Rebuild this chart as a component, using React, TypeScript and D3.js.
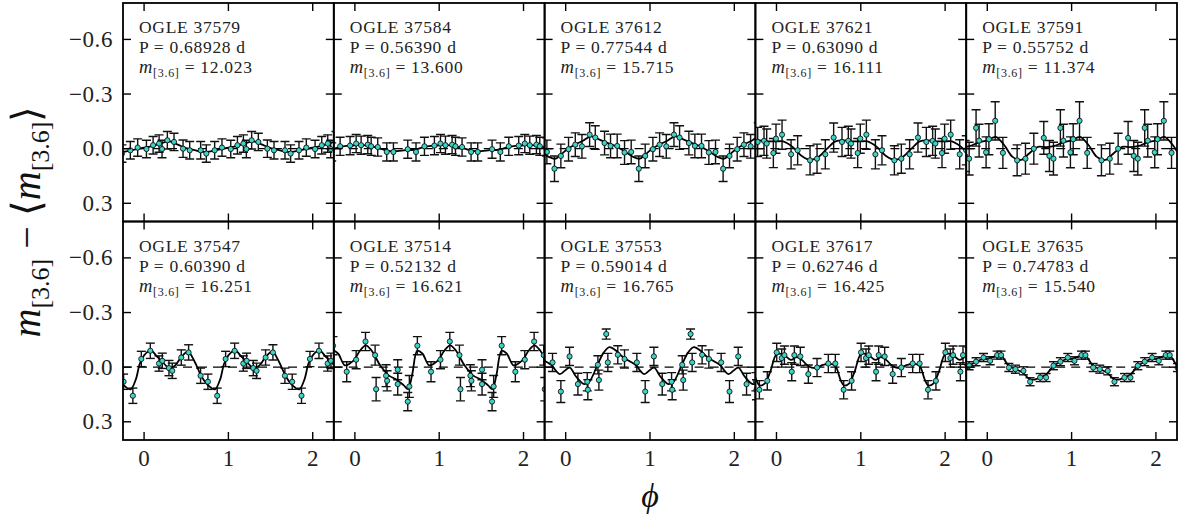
import React from "react";
import * as d3 from "d3";

// ---------- data ----------
const STAR_IDS = ["37579", "37584", "37612", "37621", "37591", "37547", "37514", "37553", "37617", "37635"];
const PERIODS = ["0.68928", "0.56390", "0.77544", "0.63090", "0.55752", "0.60390", "0.52132", "0.59014", "0.62746", "0.74783"];
const MEAN_MAGS = ["12.023", "13.600", "15.715", "16.111", "11.374", "16.251", "16.621", "16.765", "16.425", "15.540"];

const X_TICKS = [0, 1, 2];
const Y_TICKS = [-0.6, -0.3, 0.0, 0.3];
const Y_TICK_LABELS = ["\u22120.6", "\u22120.3", "0.0", "0.3"];

const PHASE_37579 = [0.028, 0.107, 0.178, 0.213, 0.276, 0.355, 0.462, 0.541, 0.671, 0.738, 0.837, 0.924];
const DMAG_37579 = [0.002, -0.019, -0.028, 0.002, -0.046, -0.037, 0.0, 0.009, 0.009, 0.027, 0.009, -0.006];
const ERR_37579 = [0.048, 0.048, 0.048, 0.048, 0.048, 0.048, 0.048, 0.048, 0.048, 0.048, 0.048, 0.048];
const FIT_37579 = [[0, -0.005], [0.1, -0.015], [0.2, -0.03], [0.3, -0.04], [0.4, -0.022], [0.5, -0.003], [0.6, 0.008], [0.7, 0.018], [0.8, 0.014], [0.9, 0.004]];

const PHASE_37584 = [0.015, 0.074, 0.153, 0.193, 0.271, 0.378, 0.457, 0.627, 0.725, 0.825, 0.943];
const DMAG_37584 = [-0.028, -0.019, -0.022, -0.013, -0.009, 0.018, 0.018, 0.003, 0.018, -0.013, -0.017];
const ERR_37584 = [0.05, 0.05, 0.05, 0.05, 0.05, 0.05, 0.05, 0.05, 0.05, 0.05, 0.05];
const FIT_37584 = [[0, -0.018], [0.1, -0.02], [0.2, -0.013], [0.3, 0.0], [0.4, 0.012], [0.5, 0.013], [0.6, 0.008], [0.7, 0.006], [0.8, -0.006], [0.9, -0.015]];

const PHASE_37612 = [0.034, 0.114, 0.193, 0.284, 0.351, 0.461, 0.532, 0.611, 0.698, 0.777, 0.867, 0.943];
const DMAG_37612 = [0.003, -0.022, -0.013, -0.077, -0.061, -0.031, -0.015, -0.015, 0.021, 0.018, 0.11, 0.04];
const ERR_37612 = [0.065, 0.065, 0.065, 0.065, 0.065, 0.065, 0.065, 0.065, 0.065, 0.065, 0.07, 0.065];
const FIT_37612 = [[0, 0.01], [0.1, -0.02], [0.2, -0.042], [0.3, -0.068], [0.4, -0.05], [0.5, -0.03], [0.6, -0.012], [0.7, 0.015], [0.8, 0.045], [0.88, 0.055], [0.95, 0.03]];

const PHASE_37621 = [0.066, 0.173, 0.251, 0.398, 0.481, 0.579, 0.678, 0.777, 0.852, 0.884, 0.963, 0.994];
const DMAG_37621 = [-0.077, 0.031, 0.009, 0.064, 0.055, 0.031, -0.061, -0.037, -0.043, -0.028, 0.024, -0.055];
const ERR_37621 = [0.08, 0.08, 0.08, 0.08, 0.08, 0.08, 0.08, 0.08, 0.08, 0.08, 0.08, 0.08];
const FIT_37621 = [[0, -0.04], [0.08, -0.04], [0.19, -0.01], [0.3, 0.04], [0.4, 0.062], [0.5, 0.045], [0.6, 0.0], [0.7, -0.04], [0.8, -0.045], [0.9, -0.04]];

const PHASE_37591 = [0.019, 0.094, 0.185, 0.354, 0.453, 0.552, 0.67, 0.737, 0.785, 0.867, 0.903, 0.986];
const DMAG_37591 = [-0.052, -0.153, 0.023, 0.064, 0.055, 0.0, -0.059, 0.04, 0.055, -0.114, -0.044, 0.02];
const ERR_37591 = [0.085, 0.105, 0.085, 0.085, 0.085, 0.085, 0.09, 0.085, 0.09, 0.1, 0.09, 0.085];
const FIT_37591 = [[0, -0.045], [0.1, -0.065], [0.2, -0.02], [0.3, 0.045], [0.4, 0.062], [0.5, 0.025], [0.6, -0.01], [0.7, -0.008], [0.8, -0.015], [0.9, -0.035]];

const PHASE_37547 = [0.074, 0.177, 0.216, 0.295, 0.334, 0.441, 0.528, 0.67, 0.757, 0.867, 0.967];
const DMAG_37547 = [-0.09, -0.02, -0.035, 0.005, 0.02, -0.053, -0.081, 0.047, 0.08, 0.157, -0.045];
const ERR_37547 = [0.042, 0.042, 0.042, 0.042, 0.042, 0.042, 0.042, 0.042, 0.042, 0.042, 0.042];
const FIT_37547 = [[0, -0.065], [0.08, -0.092], [0.15, -0.06], [0.22, -0.028], [0.3, 0.005], [0.37, -0.01], [0.44, -0.055], [0.52, -0.085], [0.6, -0.03], [0.68, 0.05], [0.76, 0.1], [0.84, 0.122], [0.9, 0.07], [0.95, -0.02]];

const PHASE_37514 = [0.015, 0.126, 0.24, 0.252, 0.37, 0.382, 0.508, 0.508, 0.627, 0.646, 0.741, 0.903];
const DMAG_37514 = [-0.041, -0.141, -0.066, 0.121, 0.047, 0.075, 0.014, 0.093, 0.189, 0.106, -0.118, 0.025];
const ERR_37514 = [0.05, 0.05, 0.055, 0.064, 0.06, 0.055, 0.055, 0.06, 0.05, 0.06, 0.05, 0.055];
const FIT_37514 = [[0, -0.045], [0.06, -0.09], [0.13, -0.12], [0.2, -0.09], [0.3, -0.01], [0.4, 0.045], [0.5, 0.07], [0.58, 0.1], [0.63, 0.12], [0.68, 0.04], [0.74, -0.09], [0.8, -0.075], [0.88, -0.01], [0.94, -0.02]];

const PHASE_37553 = [0.046, 0.145, 0.256, 0.263, 0.382, 0.394, 0.481, 0.5, 0.618, 0.698, 0.844, 0.943];
const DMAG_37553 = [-0.059, 0.093, 0.08, 0.124, -0.013, 0.071, -0.182, -0.026, -0.068, -0.045, -0.026, 0.134];
const ERR_37553 = [0.05, 0.06, 0.05, 0.055, 0.05, 0.055, 0.028, 0.05, 0.05, 0.05, 0.05, 0.06];
const FIT_37553 = [[0, 0.015], [0.05, 0.002], [0.12, 0.05], [0.22, 0.093], [0.28, 0.08], [0.38, -0.015], [0.45, -0.08], [0.52, -0.11], [0.6, -0.09], [0.66, -0.063], [0.75, -0.035], [0.83, -0.012], [0.93, 0.038]];

const PHASE_37617 = [0.003, 0.062, 0.094, 0.181, 0.212, 0.283, 0.378, 0.481, 0.615, 0.698, 0.797, 0.891];
const DMAG_37617 = [-0.081, -0.05, -0.066, 0.025, -0.066, -0.059, 0.038, 0.002, -0.02, -0.02, 0.124, 0.075];
const ERR_37617 = [0.05, 0.05, 0.05, 0.05, 0.05, 0.05, 0.05, 0.05, 0.05, 0.05, 0.05, 0.05];
const FIT_37617 = [[0, -0.07], [0.08, -0.07], [0.17, -0.04], [0.24, -0.055], [0.3, -0.04], [0.38, -0.005], [0.46, 0.005], [0.55, -0.012], [0.63, -0.02], [0.7, -0.005], [0.76, 0.07], [0.8, 0.1], [0.86, 0.09], [0.93, 0.02]];

const PHASE_37635 = [0.034, 0.117, 0.164, 0.256, 0.334, 0.429, 0.508, 0.627, 0.698, 0.785, 0.867, 0.955];
const DMAG_37635 = [-0.035, -0.066, -0.066, 0.002, 0.011, 0.02, 0.08, 0.057, 0.057, -0.008, -0.03, -0.053];
const ERR_37635 = [0.022, 0.022, 0.022, 0.022, 0.022, 0.022, 0.022, 0.022, 0.022, 0.022, 0.022, 0.022];
const FIT_37635 = [[0, -0.045], [0.1, -0.06], [0.17, -0.06], [0.25, -0.01], [0.33, 0.01], [0.42, 0.03], [0.5, 0.065], [0.56, 0.068], [0.63, 0.055], [0.7, 0.04], [0.78, -0.005], [0.87, -0.03], [0.95, -0.045]];

const PHASES = [PHASE_37579, PHASE_37584, PHASE_37612, PHASE_37621, PHASE_37591, PHASE_37547, PHASE_37514, PHASE_37553, PHASE_37617, PHASE_37635];
const DMAGS = [DMAG_37579, DMAG_37584, DMAG_37612, DMAG_37621, DMAG_37591, DMAG_37547, DMAG_37514, DMAG_37553, DMAG_37617, DMAG_37635];
const ERRS = [ERR_37579, ERR_37584, ERR_37612, ERR_37621, ERR_37591, ERR_37547, ERR_37514, ERR_37553, ERR_37617, ERR_37635];
const FITS = [FIT_37579, FIT_37584, FIT_37612, FIT_37621, FIT_37591, FIT_37547, FIT_37514, FIT_37553, FIT_37617, FIT_37635];

// ---------- layout ----------
const W = 1178;
const H = 516;
const LEFT = 123;
const RIGHT = 1177;
const TOP = 3;
const ROW_H = 218.5;
const NCOL = 5;
const PW = (RIGHT - LEFT) / NCOL;
const FONT = "'Liberation Serif', 'Times New Roman', serif";
const DOT = "#3fd2c6";

function Panel({ idx }: { idx: number }) {
  const row = Math.floor(idx / NCOL);
  const col = idx % NCOL;
  const left = LEFT + col * PW;
  const top = TOP + row * ROW_H;
  const x = d3.scaleLinear().domain([-0.25, 2.25]).range([left, left + PW]);
  const y = d3.scaleLinear().domain([-0.8, 0.4]).range([top, top + ROW_H]);
  const clipId = `clip-${idx}`;

  const phase = PHASES[idx];
  const dmag = DMAGS[idx];
  const err = ERRS[idx];
  const fit = FITS[idx];

  const pts: { p: number; m: number; e: number }[] = [];
  for (const k of [-1, 0, 1, 2]) {
    phase.forEach((p, i) => {
      const ph = p + k;
      if (ph > -0.4 && ph < 2.4) pts.push({ p: ph, m: dmag[i], e: err[i] });
    });
  }
  const knots: [number, number][] = [];
  for (const k of [-1, 0, 1, 2, 3]) {
    fit.forEach(([p, m]) => knots.push([p + k, m]));
  }
  knots.sort((a, b) => a[0] - b[0]);
  const line = d3
    .line<[number, number]>()
    .x((d) => x(d[0]))
    .y((d) => y(d[1]))
    .curve(d3.curveCatmullRom.alpha(0.5));

  const cap = 4.5;
  const tickLen = 8;
  const bottom = top + ROW_H;
  const right = left + PW;

  return (
    <g>
      <defs>
        <clipPath id={clipId}>
          <rect x={left} y={top} width={PW} height={ROW_H} />
        </clipPath>
      </defs>
      <g clipPath={`url(#${clipId})`}>
        <line x1={left} x2={right} y1={y(0)} y2={y(0)} stroke="#000" strokeWidth={1.3} strokeDasharray="9,6" />
        {pts.map((d, i) => (
          <g key={"e" + i} stroke="#111" strokeWidth={1.4}>
            <line x1={x(d.p)} x2={x(d.p)} y1={y(d.m - d.e)} y2={y(d.m + d.e)} />
            <line x1={x(d.p) - cap} x2={x(d.p) + cap} y1={y(d.m - d.e)} y2={y(d.m - d.e)} />
            <line x1={x(d.p) - cap} x2={x(d.p) + cap} y1={y(d.m + d.e)} y2={y(d.m + d.e)} />
          </g>
        ))}
        <path d={line(knots) || ""} fill="none" stroke="#000" strokeWidth={1.8} />
        {pts.map((d, i) => (
          <circle key={"c" + i} cx={x(d.p)} cy={y(d.m)} r={2.6} fill={DOT} stroke="#000" strokeWidth={0.8} />
        ))}
      </g>
      {/* ticks */}
      {X_TICKS.map((t) => (
        <g key={"xt" + t} stroke="#000" strokeWidth={1.4}>
          <line x1={x(t)} x2={x(t)} y1={top} y2={top + tickLen} />
          <line x1={x(t)} x2={x(t)} y1={bottom} y2={bottom - tickLen} />
        </g>
      ))}
      {Y_TICKS.map((t) => (
        <g key={"yt" + t} stroke="#000" strokeWidth={1.4}>
          <line x1={left} x2={left + tickLen} y1={y(t)} y2={y(t)} />
          <line x1={right} x2={right - tickLen} y1={y(t)} y2={y(t)} />
        </g>
      ))}
      <rect x={left} y={top} width={PW} height={ROW_H} fill="none" stroke="#000" strokeWidth={1.8} />
      {/* labels */}
      {row === 1 &&
        X_TICKS.map((t) => (
          <text key={"xl" + t} x={x(t)} y={bottom + 26} textAnchor="middle" fontFamily={FONT} fontSize={23} fill="#222">
            {String(t)}
          </text>
        ))}
      {col === 0 &&
        Y_TICKS.map((t, i) => (
          <text key={"yl" + t} x={left - 10} y={y(t) + 7.5} textAnchor="end" fontFamily={FONT} fontSize={23} fill="#222" letterSpacing={0.6}>
            {Y_TICK_LABELS[i]}
          </text>
        ))}
      <g fontFamily={FONT} fontSize={17.5} fill="#222" letterSpacing={0.7}>
        <text x={left + 16} y={top + 30}>{`OGLE ${STAR_IDS[idx]}`}</text>
        <text x={left + 16} y={top + 50}>{`P = ${PERIODS[idx]} d`}</text>
        <text x={left + 16} y={top + 70}>
          <tspan fontStyle="italic" fontSize={18.5}>m</tspan>
          <tspan fontSize={12} dy={4}>[3.6]</tspan>
          <tspan dy={-4}>{` = ${MEAN_MAGS[idx]}`}</tspan>
        </text>
      </g>
    </g>
  );
}

export default function App() {
  const yMid = TOP + ROW_H;
  return (
    <div style={{ position: "absolute", left: 0, top: 0 }}>
      <svg width={W} height={H} style={{ display: "block", background: "#fff" }}>
        {STAR_IDS.map((_, i) => (
          <Panel key={i} idx={i} />
        ))}
        <text
          transform={`translate(40,${yMid}) rotate(-90)`}
          textAnchor="middle"
          fontFamily={FONT}
          fontSize={40}
          fill="#111"
        >
          <tspan fontStyle="italic">m</tspan>
          <tspan fontSize={26} dy={9}>[3.6]</tspan>
          <tspan dy={-9}>{" \u2212 \u27E8"}</tspan>
          <tspan fontStyle="italic">m</tspan>
          <tspan fontSize={26} dy={9}>[3.6]</tspan>
          <tspan dy={-9}>{"\u27E9"}</tspan>
        </text>
        <text x={(LEFT + RIGHT) / 2} y={507} textAnchor="middle" fontFamily={FONT} fontStyle="italic" fontSize={34} fill="#111">
          {"\u03D5"}
        </text>
      </svg>
    </div>
  );
}
